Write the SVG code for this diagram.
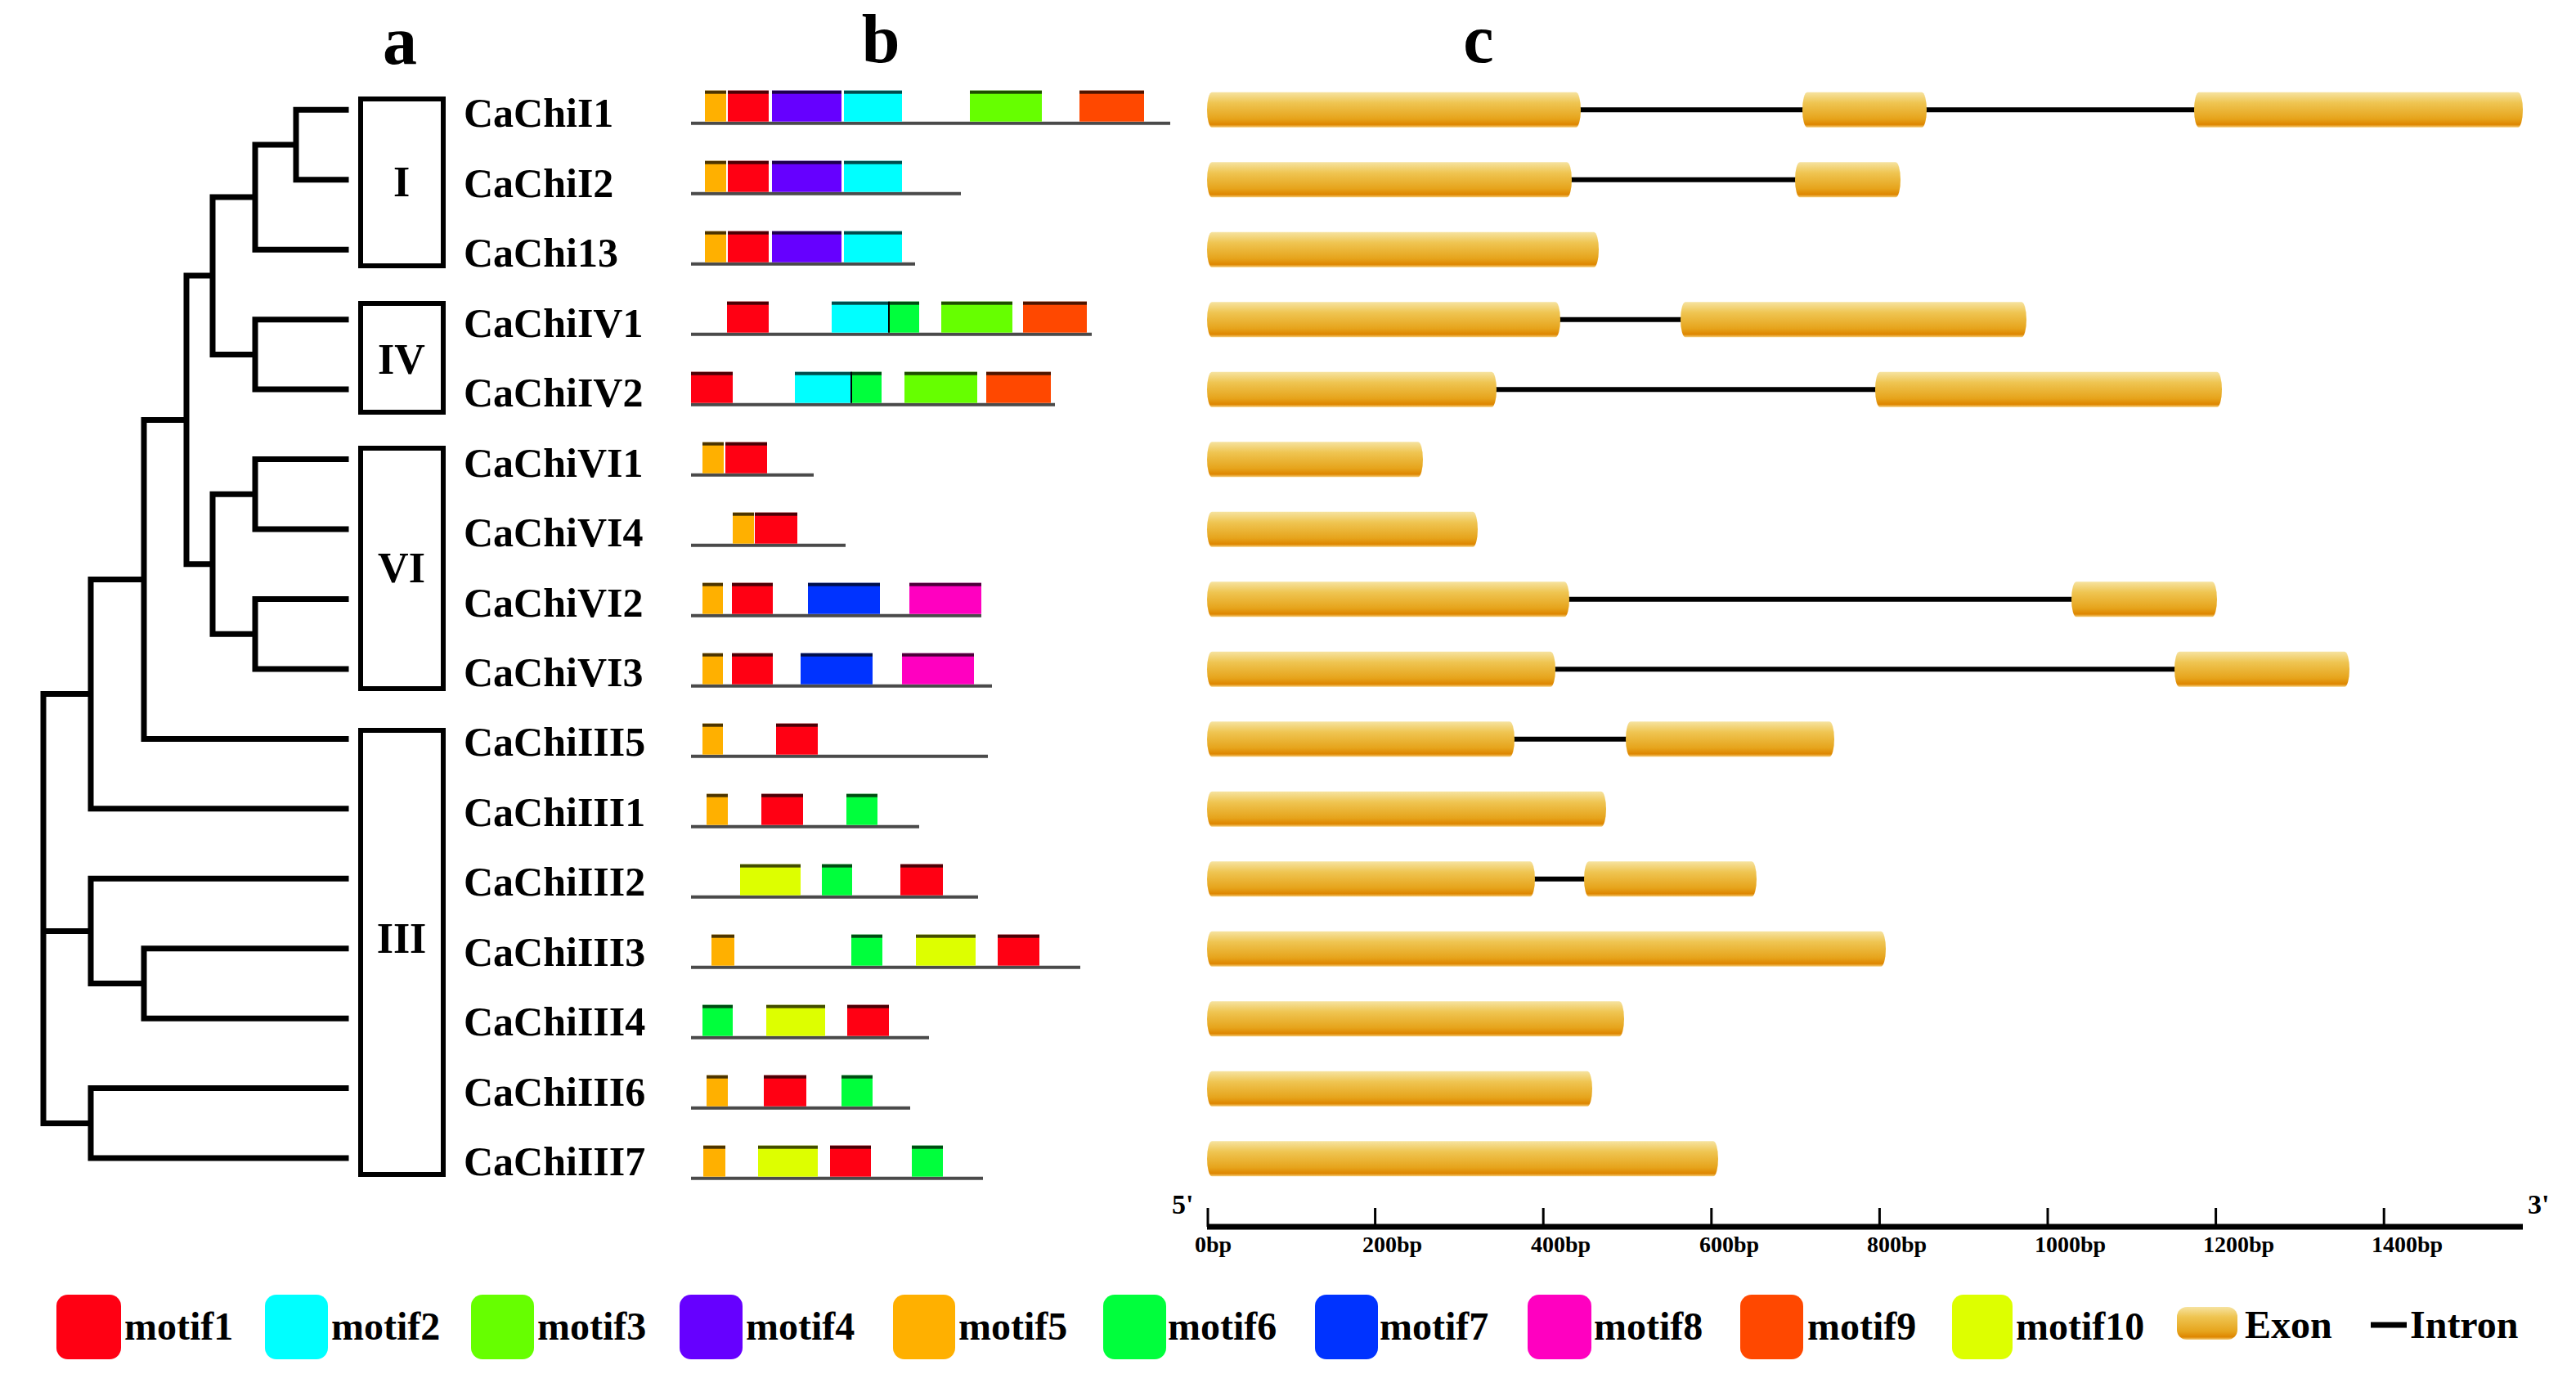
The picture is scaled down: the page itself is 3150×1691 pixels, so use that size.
<svg xmlns="http://www.w3.org/2000/svg" width="3150" height="1691" viewBox="0 0 3150 1691">
<style>
text{font-family:"Liberation Serif","Times New Roman",serif;font-weight:bold;fill:#000}
.title{font-size:84px;text-anchor:middle}
.leaf{font-size:50px}
.clade{font-size:52px;text-anchor:middle}
.tick{font-size:28px}
.leg{font-size:48px}
.tree{fill:none;stroke:#000;stroke-width:7;stroke-linecap:square;stroke-linejoin:miter}
.cbox{fill:none;stroke:#000;stroke-width:6}
.pline{stroke:#4a4a4a;stroke-width:4}
.intron{stroke:#000;stroke-width:6}
.top{fill:#000;opacity:.7}
.m1{fill:#FF0013}.m2{fill:#00FFFF}.m3{fill:#66FF00}.m4{fill:#6600FF}.m5{fill:#FFB000}
.m6{fill:#00FF3C}.m7{fill:#0033FF}.m8{fill:#FF00C0}.m9{fill:#FF4800}.m10{fill:#DDFF00}
.exon{fill:url(#exg)}
</style>
<defs>
<linearGradient id="exg" x1="0" y1="0" x2="0" y2="1">
<stop offset="0" stop-color="#F6E3A0"/>
<stop offset="0.3" stop-color="#EFC552"/>
<stop offset="0.75" stop-color="#E6A41C"/>
<stop offset="0.92" stop-color="#DE8600"/>
<stop offset="1" stop-color="#F5CF78"/>
</linearGradient>
</defs>
<rect width="3150" height="1691" fill="#fff"/>

<text class="title" x="489" y="78">a</text>
<text class="title" x="1077" y="76">b</text>
<text class="title" x="1808" y="76">c</text>

<!-- tree connectors -->
<g id="tree">
<path class="tree" d="M423,134.3H362V219.8H423M362,177H312V305.2H423M312,241H260V433.4H312M312,390.7H423M312,390.7V476.1H423M260,337H228V689.8H260M312,561.6H423M312,561.6V647H423M312,604.3H260V775.2H312M312,732.5H423M312,732.5V817.9H423M228,513.4H176V903.4H423M176,708.4H111V988.8H423M111,848.6H53V1373.4H111M53,1138.4H111M111,1074.3H423M111,1074.3V1202.5H176M176,1159.7H423M176,1159.7V1245.2H423M111,1330.6H423M111,1330.6V1416.1H423"/>
</g>

<g id="clade-I"><rect class="cbox" x="441" y="121" width="101" height="204"/><text class="clade" x="491" y="240">I</text></g>
<g id="clade-IV"><rect class="cbox" x="441" y="371" width="101" height="133"/><text class="clade" x="491" y="457">IV</text></g>
<g id="clade-VI"><rect class="cbox" x="441" y="548" width="101" height="294"/><text class="clade" x="491" y="712">VI</text></g>
<g id="clade-III"><rect class="cbox" x="441" y="893" width="101" height="543"/><text class="clade" x="491" y="1165">III</text></g>

<g id="labels">
<text class="leaf" x="567" y="155.3">CaChiI1</text>
<text class="leaf" x="567" y="240.8">CaChiI2</text>
<text class="leaf" x="567" y="326.2">CaChi13</text>
<text class="leaf" x="567" y="411.7">CaChiIV1</text>
<text class="leaf" x="567" y="497.1">CaChiIV2</text>
<text class="leaf" x="567" y="582.6">CaChiVI1</text>
<text class="leaf" x="567" y="668">CaChiVI4</text>
<text class="leaf" x="567" y="753.5">CaChiVI2</text>
<text class="leaf" x="567" y="838.9">CaChiVI3</text>
<text class="leaf" x="567" y="924.4">CaChiIII5</text>
<text class="leaf" x="567" y="1009.8">CaChiIII1</text>
<text class="leaf" x="567" y="1095.3">CaChiIII2</text>
<text class="leaf" x="567" y="1180.7">CaChiIII3</text>
<text class="leaf" x="567" y="1266.2">CaChiIII4</text>
<text class="leaf" x="567" y="1351.6">CaChiIII6</text>
<text class="leaf" x="567" y="1437.1">CaChiIII7</text>
</g>

<!-- motifs -->
<g id="motif-I1" transform="translate(0,150.7)">
<line class="pline" x1="845" y1="0" x2="1431" y2="0"/>
<rect class="m5" x="862" y="-40" width="26" height="38"/><rect class="m1" x="890" y="-40" width="50" height="38"/><rect class="m4" x="944" y="-40" width="85" height="38"/><rect class="m2" x="1032" y="-40" width="71" height="38"/><rect class="m3" x="1186" y="-40" width="88" height="38"/><rect class="m9" x="1320" y="-40" width="79" height="38"/>
<rect class="top" x="862" y="-40" width="26" height="4"/><rect class="top" x="890" y="-40" width="50" height="4"/><rect class="top" x="944" y="-40" width="85" height="4"/><rect class="top" x="1032" y="-40" width="71" height="4"/><rect class="top" x="1186" y="-40" width="88" height="4"/><rect class="top" x="1320" y="-40" width="79" height="4"/>
</g>
<g id="motif-I2" transform="translate(0,236.7)">
<line class="pline" x1="845" y1="0" x2="1175" y2="0"/>
<rect class="m5" x="862" y="-40" width="26" height="38"/><rect class="m1" x="890" y="-40" width="50" height="38"/><rect class="m4" x="944" y="-40" width="85" height="38"/><rect class="m2" x="1032" y="-40" width="71" height="38"/>
<rect class="top" x="862" y="-40" width="26" height="4"/><rect class="top" x="890" y="-40" width="50" height="4"/><rect class="top" x="944" y="-40" width="85" height="4"/><rect class="top" x="1032" y="-40" width="71" height="4"/>
</g>
<g id="motif-I3" transform="translate(0,322.7)">
<line class="pline" x1="845" y1="0" x2="1119" y2="0"/>
<rect class="m5" x="862" y="-40" width="26" height="38"/><rect class="m1" x="890" y="-40" width="50" height="38"/><rect class="m4" x="944" y="-40" width="85" height="38"/><rect class="m2" x="1032" y="-40" width="71" height="38"/>
<rect class="top" x="862" y="-40" width="26" height="4"/><rect class="top" x="890" y="-40" width="50" height="4"/><rect class="top" x="944" y="-40" width="85" height="4"/><rect class="top" x="1032" y="-40" width="71" height="4"/>
</g>
<g id="motif-IV1" transform="translate(0,408.7)">
<line class="pline" x1="845" y1="0" x2="1335" y2="0"/>
<rect class="m1" x="889" y="-40" width="51" height="38"/><rect class="m2" x="1017" y="-40" width="70" height="38"/><rect class="m6" x="1087" y="-40" width="37" height="38"/><rect class="m3" x="1151" y="-40" width="87" height="38"/><rect class="m9" x="1251" y="-40" width="78" height="38"/>
<line x1="1087" y1="-40" x2="1087" y2="-2" stroke="#000" stroke-width="2"/>
<rect class="top" x="889" y="-40" width="51" height="4"/><rect class="top" x="1017" y="-40" width="107" height="4"/><rect class="top" x="1151" y="-40" width="87" height="4"/><rect class="top" x="1251" y="-40" width="78" height="4"/>
</g>
<g id="motif-IV2" transform="translate(0,494.7)">
<line class="pline" x1="845" y1="0" x2="1290" y2="0"/>
<rect class="m1" x="845" y="-40" width="51" height="38"/><rect class="m2" x="972" y="-40" width="69" height="38"/><rect class="m6" x="1041" y="-40" width="37" height="38"/><rect class="m3" x="1106" y="-40" width="89" height="38"/><rect class="m9" x="1206" y="-40" width="79" height="38"/>
<line x1="1041" y1="-40" x2="1041" y2="-2" stroke="#000" stroke-width="2"/>
<rect class="top" x="845" y="-40" width="51" height="4"/><rect class="top" x="972" y="-40" width="106" height="4"/><rect class="top" x="1106" y="-40" width="89" height="4"/><rect class="top" x="1206" y="-40" width="79" height="4"/>
</g>
<g id="motif-VI1" transform="translate(0,580.7)">
<line class="pline" x1="845" y1="0" x2="995" y2="0"/>
<rect class="m5" x="859" y="-40" width="26" height="38"/><rect class="m1" x="887" y="-40" width="51" height="38"/>
<rect class="top" x="859" y="-40" width="26" height="4"/><rect class="top" x="887" y="-40" width="51" height="4"/>
</g>
<g id="motif-VI4" transform="translate(0,666.7)">
<line class="pline" x1="845" y1="0" x2="1034" y2="0"/>
<rect class="m5" x="896" y="-40" width="26" height="38"/><rect class="m1" x="923" y="-40" width="52" height="38"/>
<rect class="top" x="896" y="-40" width="26" height="4"/><rect class="top" x="923" y="-40" width="52" height="4"/>
</g>
<g id="motif-VI2" transform="translate(0,752.7)">
<line class="pline" x1="845" y1="0" x2="1200" y2="0"/>
<rect class="m5" x="859" y="-40" width="25" height="38"/><rect class="m1" x="895" y="-40" width="50" height="38"/><rect class="m7" x="988" y="-40" width="88" height="38"/><rect class="m8" x="1112" y="-40" width="88" height="38"/>
<rect class="top" x="859" y="-40" width="25" height="4"/><rect class="top" x="895" y="-40" width="50" height="4"/><rect class="top" x="988" y="-40" width="88" height="4"/><rect class="top" x="1112" y="-40" width="88" height="4"/>
</g>
<g id="motif-VI3" transform="translate(0,838.7)">
<line class="pline" x1="845" y1="0" x2="1213" y2="0"/>
<rect class="m5" x="859" y="-40" width="25" height="38"/><rect class="m1" x="895" y="-40" width="50" height="38"/><rect class="m7" x="979" y="-40" width="88" height="38"/><rect class="m8" x="1103" y="-40" width="88" height="38"/>
<rect class="top" x="859" y="-40" width="25" height="4"/><rect class="top" x="895" y="-40" width="50" height="4"/><rect class="top" x="979" y="-40" width="88" height="4"/><rect class="top" x="1103" y="-40" width="88" height="4"/>
</g>
<g id="motif-III5" transform="translate(0,924.7)">
<line class="pline" x1="845" y1="0" x2="1208" y2="0"/>
<rect class="m5" x="859" y="-40" width="25" height="38"/><rect class="m1" x="949" y="-40" width="51" height="38"/>
<rect class="top" x="859" y="-40" width="25" height="4"/><rect class="top" x="949" y="-40" width="51" height="4"/>
</g>
<g id="motif-III1" transform="translate(0,1010.7)">
<line class="pline" x1="845" y1="0" x2="1124" y2="0"/>
<rect class="m5" x="864" y="-40" width="26" height="38"/><rect class="m1" x="931" y="-40" width="51" height="38"/><rect class="m6" x="1035" y="-40" width="38" height="38"/>
<rect class="top" x="864" y="-40" width="26" height="4"/><rect class="top" x="931" y="-40" width="51" height="4"/><rect class="top" x="1035" y="-40" width="38" height="4"/>
</g>
<g id="motif-III2" transform="translate(0,1096.7)">
<line class="pline" x1="845" y1="0" x2="1196" y2="0"/>
<rect class="m10" x="905" y="-40" width="74" height="38"/><rect class="m6" x="1005" y="-40" width="37" height="38"/><rect class="m1" x="1101" y="-40" width="52" height="38"/>
<rect class="top" x="905" y="-40" width="74" height="4"/><rect class="top" x="1005" y="-40" width="37" height="4"/><rect class="top" x="1101" y="-40" width="52" height="4"/>
</g>
<g id="motif-III3" transform="translate(0,1182.7)">
<line class="pline" x1="845" y1="0" x2="1321" y2="0"/>
<rect class="m5" x="870" y="-40" width="28" height="38"/><rect class="m6" x="1041" y="-40" width="38" height="38"/><rect class="m10" x="1120" y="-40" width="73" height="38"/><rect class="m1" x="1220" y="-40" width="51" height="38"/>
<rect class="top" x="870" y="-40" width="28" height="4"/><rect class="top" x="1041" y="-40" width="38" height="4"/><rect class="top" x="1120" y="-40" width="73" height="4"/><rect class="top" x="1220" y="-40" width="51" height="4"/>
</g>
<g id="motif-III4" transform="translate(0,1268.7)">
<line class="pline" x1="845" y1="0" x2="1136" y2="0"/>
<rect class="m6" x="859" y="-40" width="37" height="38"/><rect class="m10" x="937" y="-40" width="72" height="38"/><rect class="m1" x="1036" y="-40" width="51" height="38"/>
<rect class="top" x="859" y="-40" width="37" height="4"/><rect class="top" x="937" y="-40" width="72" height="4"/><rect class="top" x="1036" y="-40" width="51" height="4"/>
</g>
<g id="motif-III6" transform="translate(0,1354.7)">
<line class="pline" x1="845" y1="0" x2="1113" y2="0"/>
<rect class="m5" x="864" y="-40" width="26" height="38"/><rect class="m1" x="934" y="-40" width="52" height="38"/><rect class="m6" x="1029" y="-40" width="38" height="38"/>
<rect class="top" x="864" y="-40" width="26" height="4"/><rect class="top" x="934" y="-40" width="52" height="4"/><rect class="top" x="1029" y="-40" width="38" height="4"/>
</g>
<g id="motif-III7" transform="translate(0,1440.7)">
<line class="pline" x1="845" y1="0" x2="1202" y2="0"/>
<rect class="m5" x="860" y="-40" width="27" height="38"/><rect class="m10" x="927" y="-40" width="73" height="38"/><rect class="m1" x="1015" y="-40" width="50" height="38"/><rect class="m6" x="1115" y="-40" width="38" height="38"/>
<rect class="top" x="860" y="-40" width="27" height="4"/><rect class="top" x="927" y="-40" width="73" height="4"/><rect class="top" x="1015" y="-40" width="50" height="4"/><rect class="top" x="1115" y="-40" width="38" height="4"/>
</g>

<!-- gene structures -->
<g id="gene-I1" transform="translate(0,134.3)">
<line class="intron" x1="1930" y1="0" x2="2206" y2="0"/><line class="intron" x1="2354" y1="0" x2="2686" y2="0"/>
<rect class="exon" x="1476" y="-21.5" width="457" height="43" rx="6" ry="21.5"/><rect class="exon" x="2204" y="-21.5" width="152" height="43" rx="6" ry="21.5"/><rect class="exon" x="2683" y="-21.5" width="402" height="43" rx="6" ry="21.5"/>
</g>
<g id="gene-I2" transform="translate(0,219.8)">
<line class="intron" x1="1919" y1="0" x2="2198" y2="0"/>
<rect class="exon" x="1476" y="-21.5" width="446" height="43" rx="6" ry="21.5"/><rect class="exon" x="2195" y="-21.5" width="129" height="43" rx="6" ry="21.5"/>
</g>
<g id="gene-I3" transform="translate(0,305.3)">
<rect class="exon" x="1476" y="-21.5" width="479" height="43" rx="6" ry="21.5"/>
</g>
<g id="gene-IV1" transform="translate(0,390.8)">
<line class="intron" x1="1905" y1="0" x2="2058" y2="0"/>
<rect class="exon" x="1476" y="-21.5" width="432" height="43" rx="6" ry="21.5"/><rect class="exon" x="2055" y="-21.5" width="423" height="43" rx="6" ry="21.5"/>
</g>
<g id="gene-IV2" transform="translate(0,476.3)">
<line class="intron" x1="1827" y1="0" x2="2296" y2="0"/>
<rect class="exon" x="1476" y="-21.5" width="354" height="43" rx="6" ry="21.5"/><rect class="exon" x="2293" y="-21.5" width="424" height="43" rx="6" ry="21.5"/>
</g>
<g id="gene-VI1" transform="translate(0,561.8)">
<rect class="exon" x="1476" y="-21.5" width="264" height="43" rx="6" ry="21.5"/>
</g>
<g id="gene-VI4" transform="translate(0,647.3)">
<rect class="exon" x="1476" y="-21.5" width="331" height="43" rx="6" ry="21.5"/>
</g>
<g id="gene-VI2" transform="translate(0,732.8)">
<line class="intron" x1="1916" y1="0" x2="2536" y2="0"/>
<rect class="exon" x="1476" y="-21.5" width="443" height="43" rx="6" ry="21.5"/><rect class="exon" x="2533" y="-21.5" width="178" height="43" rx="6" ry="21.5"/>
</g>
<g id="gene-VI3" transform="translate(0,818.3)">
<line class="intron" x1="1899" y1="0" x2="2662" y2="0"/>
<rect class="exon" x="1476" y="-21.5" width="426" height="43" rx="6" ry="21.5"/><rect class="exon" x="2659" y="-21.5" width="214" height="43" rx="6" ry="21.5"/>
</g>
<g id="gene-III5" transform="translate(0,903.8)">
<line class="intron" x1="1849" y1="0" x2="1991" y2="0"/>
<rect class="exon" x="1476" y="-21.5" width="376" height="43" rx="6" ry="21.5"/><rect class="exon" x="1988" y="-21.5" width="255" height="43" rx="6" ry="21.5"/>
</g>
<g id="gene-III1" transform="translate(0,989.3)">
<rect class="exon" x="1476" y="-21.5" width="488" height="43" rx="6" ry="21.5"/>
</g>
<g id="gene-III2" transform="translate(0,1074.8)">
<line class="intron" x1="1874" y1="0" x2="1940" y2="0"/>
<rect class="exon" x="1476" y="-21.5" width="401" height="43" rx="6" ry="21.5"/><rect class="exon" x="1937" y="-21.5" width="211" height="43" rx="6" ry="21.5"/>
</g>
<g id="gene-III3" transform="translate(0,1160.3)">
<rect class="exon" x="1476" y="-21.5" width="830" height="43" rx="6" ry="21.5"/>
</g>
<g id="gene-III4" transform="translate(0,1245.8)">
<rect class="exon" x="1476" y="-21.5" width="510" height="43" rx="6" ry="21.5"/>
</g>
<g id="gene-III6" transform="translate(0,1331.3)">
<rect class="exon" x="1476" y="-21.5" width="471" height="43" rx="6" ry="21.5"/>
</g>
<g id="gene-III7" transform="translate(0,1416.8)">
<rect class="exon" x="1476" y="-21.5" width="625" height="43" rx="6" ry="21.5"/>
</g>

<!-- scale axis -->
<g id="axis">
<line x1="1476" y1="1500" x2="3085" y2="1500" stroke="#000" stroke-width="7"/>
<g stroke="#000" stroke-width="3">
<line x1="1477" y1="1477" x2="1477" y2="1500"/><line x1="1681.6" y1="1477" x2="1681.6" y2="1500"/><line x1="1887.2" y1="1477" x2="1887.2" y2="1500"/><line x1="2092.8" y1="1477" x2="2092.8" y2="1500"/><line x1="2298.4" y1="1477" x2="2298.4" y2="1500"/><line x1="2504" y1="1477" x2="2504" y2="1500"/><line x1="2709.6" y1="1477" x2="2709.6" y2="1500"/><line x1="2915.2" y1="1477" x2="2915.2" y2="1500"/>
</g>
<text class="tick" x="1461" y="1531">0bp</text>
<text class="tick" x="1666" y="1531">200bp</text>
<text class="tick" x="1872" y="1531">400bp</text>
<text class="tick" x="2078" y="1531">600bp</text>
<text class="tick" x="2283" y="1531">800bp</text>
<text class="tick" x="2488" y="1531">1000bp</text>
<text class="tick" x="2694" y="1531">1200bp</text>
<text class="tick" x="2900" y="1531">1400bp</text>
<text x="1433" y="1484" font-size="34">5'</text>
<text x="3091" y="1484" font-size="34">3'</text>
</g>

<!-- legend -->
<g id="legend">
<rect class="m1" x="69" y="1583" width="79" height="79" rx="14"/><text class="leg" x="152" y="1638">motif1</text>
<rect class="m2" x="324" y="1583" width="77" height="79" rx="14"/><text class="leg" x="405" y="1638">motif2</text>
<rect class="m3" x="576" y="1583" width="77" height="79" rx="14"/><text class="leg" x="657" y="1638">motif3</text>
<rect class="m4" x="831" y="1583" width="77" height="79" rx="14"/><text class="leg" x="912" y="1638">motif4</text>
<rect class="m5" x="1092" y="1583" width="76" height="79" rx="14"/><text class="leg" x="1172" y="1638">motif5</text>
<rect class="m6" x="1349" y="1583" width="77" height="79" rx="14"/><text class="leg" x="1428" y="1638">motif6</text>
<rect class="m7" x="1608" y="1583" width="77" height="79" rx="14"/><text class="leg" x="1687" y="1638">motif7</text>
<rect class="m8" x="1868" y="1583" width="78" height="79" rx="14"/><text class="leg" x="1949" y="1638">motif8</text>
<rect class="m9" x="2128" y="1583" width="77" height="79" rx="14"/><text class="leg" x="2210" y="1638">motif9</text>
<rect class="m10" x="2387" y="1583" width="74" height="79" rx="14"/><text class="leg" x="2465" y="1638">motif10</text>
<rect class="exon" x="2662" y="1598" width="74" height="40" rx="12"/><text class="leg" x="2745" y="1636">Exon</text>
<line x1="2899" y1="1620" x2="2943" y2="1620" stroke="#000" stroke-width="7"/><text class="leg" x="2947" y="1636">Intron</text>
</g>
</svg>
